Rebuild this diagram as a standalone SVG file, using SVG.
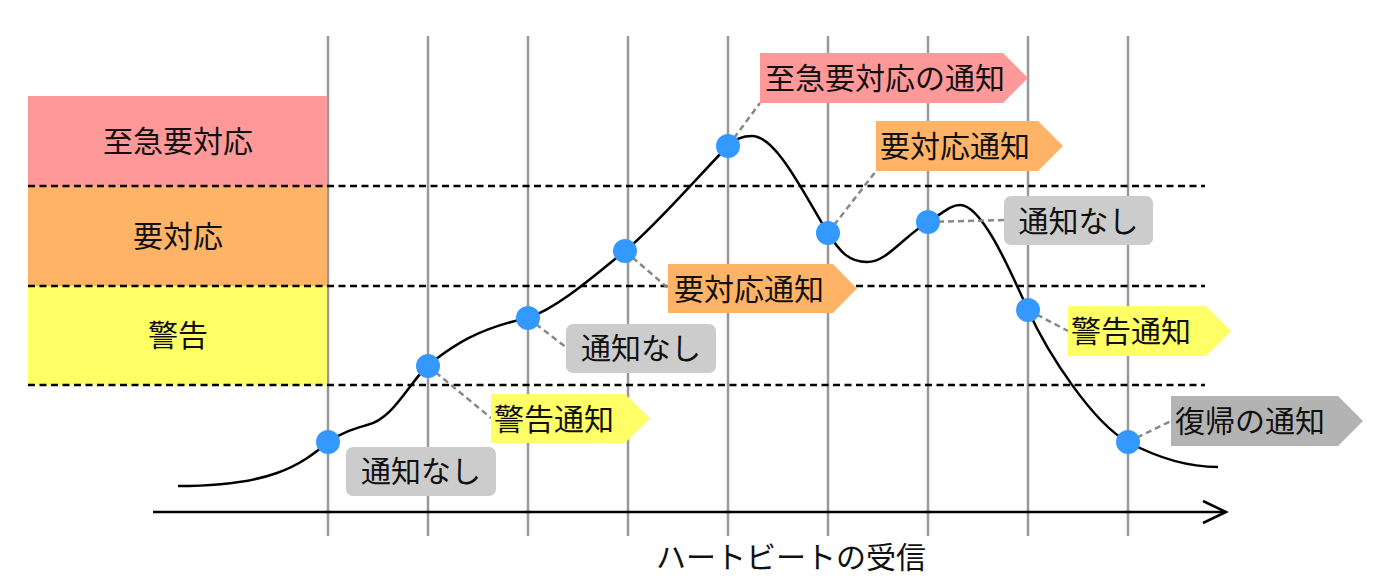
<svg xmlns="http://www.w3.org/2000/svg" width="1392" height="586" viewBox="0 0 1392 586">
<style>
text{font-family:"Noto Sans CJK JP","Noto Sans",sans-serif;font-size:30px;fill:#111}
.grid{stroke:#999;stroke-width:2.5}
.thr{stroke:#000;stroke-width:2.5;stroke-dasharray:7 4.5}
.con{stroke:#888;stroke-width:2.5;stroke-dasharray:6 4;fill:none}
.dot{fill:#3399ff}
.red{fill:#ff9999}.org{fill:#ffb366}.yel{fill:#ffff66}.gry{fill:#cccccc}.dgr{fill:#b3b3b3}
.mid{text-anchor:middle}
</style>
<g id="grid">
<line class="grid" x1="328" y1="36" x2="328" y2="536"/>
<line class="grid" x1="428" y1="36" x2="428" y2="536"/>
<line class="grid" x1="528" y1="36" x2="528" y2="536"/>
<line class="grid" x1="628" y1="36" x2="628" y2="536"/>
<line class="grid" x1="728" y1="36" x2="728" y2="536"/>
<line class="grid" x1="828" y1="36" x2="828" y2="536"/>
<line class="grid" x1="928" y1="36" x2="928" y2="536"/>
<line class="grid" x1="1028" y1="36" x2="1028" y2="536"/>
<line class="grid" x1="1128" y1="36" x2="1128" y2="536"/>
</g>
<g id="level-critical"><rect class="red" x="28" y="96" width="299" height="90"/><text class="mid" x="178" y="151.5">至急要対応</text></g>
<g id="level-action"><rect class="org" x="28" y="186" width="299" height="100"/><text class="mid" x="178" y="246.5">要対応</text></g>
<g id="level-warning"><rect class="yel" x="28" y="286" width="299" height="99"/><text class="mid" x="178" y="345.5">警告</text></g>
<g id="thresholds">
<line class="thr" x1="28" y1="186" x2="1205" y2="186"/>
<line class="thr" x1="28" y1="286" x2="1205" y2="286"/>
<line class="thr" x1="28" y1="385" x2="1205" y2="385"/>
</g>
<g id="axis">
<line x1="153" y1="512" x2="1226" y2="512" stroke="#000" stroke-width="2.5"/>
<polyline points="1203,501 1226,512 1203,523" fill="none" stroke="#000" stroke-width="2.5"/>
<text class="mid" x="791" y="568">ハートビートの受信</text>
</g>
<path id="curve" fill="none" stroke="#000" stroke-width="2.5" d="M178,486 C270,486 300,466 328,442 C340,433 354,429 367,425 C392,420 408,385 428,365 C446,352 470,330 528,318 C558,308 595,275 625,251 C655,227 703,171 728,146 C736,139 742,136 752,136 C777,136 806,198 828,233 C840,252 849,262 867,262 C887,262 903,237 928,222 C943,213 950,205 960,205 C982,205 1010,270 1028,310 C1048,354 1093,423 1128,442 C1158,458 1188,467 1218,467"/>
<g id="connectors">
<line class="con" x1="428" y1="366" x2="491" y2="418"/>
<line class="con" x1="528" y1="318" x2="567" y2="348"/>
<line class="con" x1="625" y1="251" x2="668" y2="288"/>
<line class="con" x1="728" y1="146" x2="760" y2="103"/>
<line class="con" x1="828" y1="233" x2="876" y2="171"/>
<line class="con" x1="928" y1="222" x2="1004" y2="220"/>
<line class="con" x1="1028" y1="310" x2="1068" y2="331"/>
<line class="con" x1="1128" y1="442" x2="1171" y2="421"/>
</g>
<g id="points">
<circle class="dot" cx="328" cy="442" r="12"/>
<circle class="dot" cx="428" cy="366" r="12"/>
<circle class="dot" cx="528" cy="318" r="12"/>
<circle class="dot" cx="625" cy="251" r="12"/>
<circle class="dot" cx="728" cy="146" r="12"/>
<circle class="dot" cx="828" cy="233" r="12"/>
<circle class="dot" cx="928" cy="222" r="12"/>
<circle class="dot" cx="1028" cy="310" r="12"/>
<circle class="dot" cx="1128" cy="442" r="12"/>
</g>
<g id="label1"><rect class="gry" x="346" y="447" width="150" height="49" rx="7"/><text class="mid" x="421" y="482">通知なし</text></g>
<g id="label2"><path class="yel" d="M491,394 H625 L650,418.5 L625,443 H491 Z"/><text x="494" y="429.5">警告通知</text></g>
<g id="label3"><rect class="gry" x="566" y="324" width="150" height="49" rx="7"/><text class="mid" x="641" y="359">通知なし</text></g>
<g id="label4"><path class="org" d="M668,264 H833 L857,288.5 L833,313 H668 Z"/><text x="674" y="299.5">要対応通知</text></g>
<g id="label5"><path class="red" d="M760,53 H1003 L1028,78 L1003,103 H760 Z"/><text x="765" y="89">至急要対応の通知</text></g>
<g id="label6"><path class="org" d="M876,121 H1038 L1063,146 L1038,171 H876 Z"/><text x="880" y="157">要対応通知</text></g>
<g id="label7"><rect class="gry" x="1004" y="196" width="149" height="49" rx="7"/><text class="mid" x="1078.5" y="231.5">通知なし</text></g>
<g id="label8"><path class="yel" d="M1068,306 H1206 L1231,331 L1206,356 H1068 Z"/><text x="1071" y="342">警告通知</text></g>
<g id="label9"><path class="dgr" d="M1171,396 H1338 L1363,421 L1338,446 H1171 Z"/><text x="1175" y="432">復帰の通知</text></g>
</svg>
